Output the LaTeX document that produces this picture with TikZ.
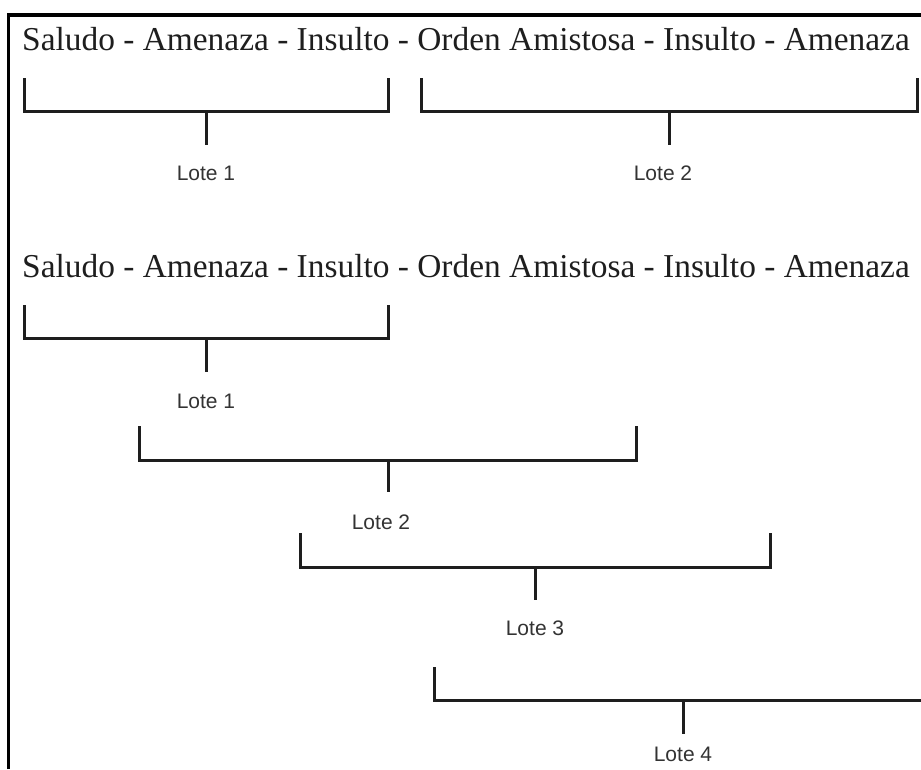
\documentclass[tikz,border=0pt]{standalone}
\usepackage{fontspec}
\setmainfont{Liberation Serif}
\newfontfamily\lblfont{Liberation Sans}
\definecolor{ink}{HTML}{1E1E1E}
\definecolor{lbl}{HTML}{333333}
\begin{document}
\begin{tikzpicture}[x=1pt,y=-1pt,
  headline/.style={anchor=base west,inner sep=0pt,text=ink,font=\fontsize{33.4}{38}\selectfont},
  lotelabel/.style={anchor=base,inner sep=0pt,text=lbl,font=\lblfont\fontsize{21}{24}\selectfont},
  brk/.style={draw=ink,line width=3pt,line cap=butt,line join=miter},
  frameline/.style={draw=black,line width=3.4pt}]
\useasboundingbox (0,0) rectangle (921,769);
\clip (0,0) rectangle (921,769);
% frame
\draw[frameline] (8.5,769) -- (8.5,15) -- (921,15);
% headlines
\node[headline] (h1) at (22,50) {Saludo - Amenaza - Insulto - Orden Amistosa - Insulto - Amenaza};
\node[headline] (h2) at (22,277) {Saludo - Amenaza - Insulto - Orden Amistosa - Insulto - Amenaza};
% row 1
\draw[brk] (24,78) -- (24,111) -- (388,111) -- (388,78);
\draw[brk] (206,111) -- (206,145);
\node[lotelabel] (a1) at (206,180) {Lote 1};
\draw[brk] (421,78) -- (421,111) -- (917,111) -- (917,78);
\draw[brk] (669,111) -- (669,145);
\node[lotelabel] (a2) at (663,180) {Lote 2};
% row 2
\draw[brk] (24,305) -- (24,338) -- (388,338) -- (388,305);
\draw[brk] (206,338) -- (206,372);
\node[lotelabel] (b1) at (206,408) {Lote 1};
\draw[brk] (139,426) -- (139,460) -- (636,460) -- (636,426);
\draw[brk] (388,460) -- (388,492);
\node[lotelabel] (b2) at (381,529) {Lote 2};
\draw[brk] (300,533) -- (300,567) -- (770,567) -- (770,533);
\draw[brk] (535,567) -- (535,600);
\node[lotelabel] (b3) at (535,635) {Lote 3};
\draw[brk] (434,667) -- (434,700) -- (925,700);
\draw[brk] (683,700) -- (683,734);
\node[lotelabel] (b4) at (683,761) {Lote 4};
\end{tikzpicture}
\end{document}
